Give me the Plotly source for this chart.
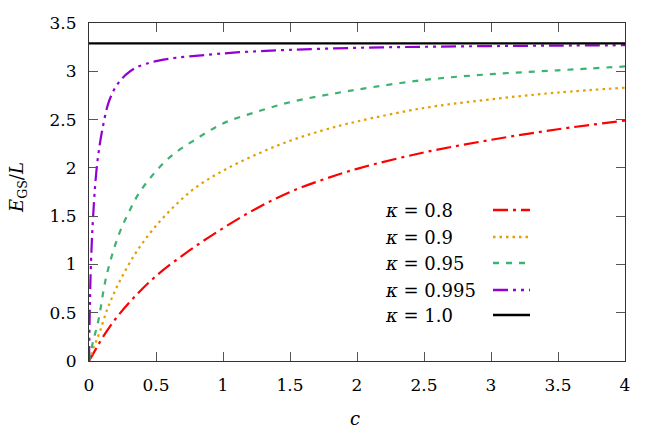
import plotly.graph_objects as go

# ---- data ----
c_08 = [0, 0.05, 0.1, 0.2, 0.33, 0.5, 0.75, 1.0, 1.25, 1.5, 1.75, 2.0, 2.5, 3.0, 3.5, 4.0]
e_08 = [0, 0.12, 0.24, 0.44, 0.65, 0.88, 1.145, 1.375, 1.58, 1.75, 1.88, 1.99, 2.16, 2.29, 2.40, 2.49]

c_09 = [0, 0.04, 0.08, 0.14, 0.22, 0.34, 0.47, 0.62, 0.79, 1.0, 1.25, 1.5, 1.75, 2.0, 2.5, 3.0, 3.5, 4.0]
e_09 = [0, 0.16, 0.30, 0.55, 0.80, 1.10, 1.35, 1.58, 1.79, 1.97, 2.14, 2.28, 2.39, 2.48, 2.62, 2.71, 2.78, 2.83]

c_095 = [0, 0.03, 0.07, 0.13, 0.22, 0.29, 0.37, 0.49, 0.62, 0.79, 1.0, 1.25, 1.5, 1.75, 2.0, 2.5, 3.0, 3.5, 4.0]
e_095 = [0, 0.20, 0.42, 0.88, 1.30, 1.52, 1.73, 1.95, 2.13, 2.29, 2.46, 2.58, 2.68, 2.75, 2.81, 2.91, 2.97, 3.01, 3.05]

c_0995 = [0, 0.005, 0.01, 0.02, 0.03, 0.045, 0.06, 0.08, 0.1, 0.14, 0.18, 0.22, 0.28, 0.34, 0.42, 0.52, 0.65, 0.84, 1.1, 1.5, 2.0, 2.5, 3.0, 3.5, 4.0]
e_0995 = [0, 0.45, 0.80, 1.20, 1.48, 1.80, 2.03, 2.24, 2.40, 2.65, 2.79, 2.88, 2.97, 3.03, 3.075, 3.11, 3.14, 3.165, 3.195, 3.222, 3.243, 3.254, 3.261, 3.266, 3.27]

c_1 = [0, 4]
e_1 = [3.29, 3.29]

x_ticks = [0, 0.5, 1, 1.5, 2, 2.5, 3, 3.5, 4]
x_ticktext = ["0", "0.5", "1", "1.5", "2", "2.5", "3", "3.5", "4"]
y_ticks = [0, 0.5, 1, 1.5, 2, 2.5, 3, 3.5]
y_ticktext = ["0", "0.5", "1", "1.5", "2", "2.5", "3", "3.5"]

labels = ["0.8", "0.9", "0.95", "0.995", "1.0"]

FONT = "DejaVu Serif"

series = [
    (c_08, e_08, "#ff0000", "15px,5px,3px,5px"),
    (c_09, e_09, "#e69f00", "2.5px,4px"),
    (c_095, e_095, "#3cb371", "6px,7px"),
    (c_0995, e_0995, "#9400d3", "15px,5px,3px,5px,3px,5px"),
    (c_1, e_1, "#000000", "solid"),
]

fig = go.Figure()
for (cx, ey, col, dash), lab in zip(series, labels):
    fig.add_trace(go.Scatter(
        x=cx, y=ey, mode="lines", name="κ = " + lab,
        line=dict(color=col, width=2.2, dash=dash, shape="spline", smoothing=1.0),
        showlegend=False,
    ))

# manual legend (text left, sample right)
leg_y_px = [210, 237, 263, 290, 315]
top_px, bot_px, left_px, right_px = 23, 361, 89, 625
H = bot_px - top_px
W = right_px - left_px
for (cx, ey, col, dash), lab, py in zip(series, labels, leg_y_px):
    yp = (bot_px - py) / H
    fig.add_annotation(
        x=(383 - left_px) / W, y=yp, xref="paper", yref="paper",
        text="<i>κ</i>\u00a0=\u00a0" + lab, showarrow=False, xanchor="left", yanchor="middle",
        font=dict(family=FONT, size=18, color="black"),
    )
    fig.add_shape(
        type="line", xref="paper", yref="paper",
        x0=(493 - left_px) / W, x1=(530 - left_px) / W, y0=yp, y1=yp,
        line=dict(color=col, width=2.4, dash=dash),
    )

# axis titles
fig.add_annotation(
    x=(18 - left_px) / W, y=(bot_px - 188) / H, xref="paper", yref="paper",
    xanchor="center", yanchor="middle",
    text="<i>E</i><sub>GS</sub>/<i>L</i>", textangle=-90, showarrow=False,
    font=dict(family=FONT, size=18, color="black"),
)
fig.add_annotation(
    x=(355 - left_px) / W, y=(bot_px - 418) / H, xref="paper", yref="paper",
    xanchor="center", yanchor="middle",
    text="<i>c</i>", showarrow=False,
    font=dict(family=FONT, size=18, color="black"),
)

axis_common = dict(
    showline=True, linecolor="#333333", linewidth=1.2, mirror="allticks",
    ticks="inside", ticklen=9, tickcolor="#555555", tickwidth=1,
    showgrid=False, zeroline=False,
    tickfont=dict(family=FONT, size=17, color="black"),
)
fig.update_xaxes(range=[0, 4], tickvals=x_ticks, ticktext=x_ticktext, ticklabelstandoff=8, **axis_common)
fig.update_yaxes(range=[0, 3.5], tickvals=y_ticks, ticktext=y_ticktext, ticklabelstandoff=8, **axis_common)

fig.update_layout(
    width=660, height=435,
    margin=dict(l=left_px, r=660 - right_px, t=top_px, b=435 - bot_px),
    plot_bgcolor="white", paper_bgcolor="white",
    showlegend=False,
    font=dict(family=FONT),
)

fig.write_html("out.html")
